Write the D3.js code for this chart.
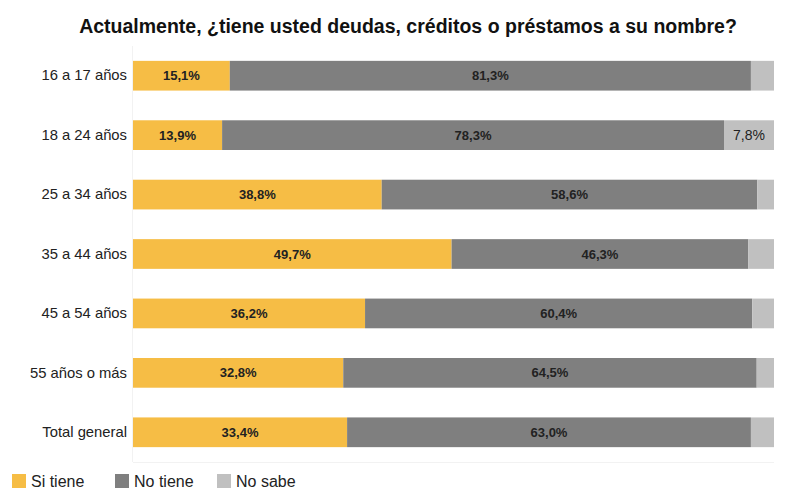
<!DOCTYPE html>
<html><head><meta charset="utf-8">
<script src="https://cdn.jsdelivr.net/npm/d3@7"></script>
<style>body{margin:0;background:#fff;}svg{display:block;font-family:"Liberation Sans",Arial,sans-serif;}</style>
</head><body>
<svg id="c" width="800" height="497"></svg>
<script>
const categories = ["16 a 17 años","18 a 24 años","25 a 34 años","35 a 44 años","45 a 54 años","55 años o más","Total general"];
const siTiene = [15.1,13.9,38.8,49.7,36.2,32.8,33.4];
const noTiene = [81.3,78.3,58.6,46.3,60.4,64.5,63.0];
const noSabe = [3.6,7.8,2.6,4.0,3.4,2.7,3.6];
const seriesNames = ["Si tiene","No tiene","No sabe"];
const colors = ["#F6BD45","#7F7F7F","#C0C0C0"];
const title = "Actualmente, ¿tiene usted deudas, créditos o préstamos a su nombre?";

const svg = d3.select("#c");
const mLeft = 133, mRight = 774, mTop = 46, mBottom = 462;
const data = categories.map((c,i)=>({cat:c,"Si tiene":siTiene[i],"No tiene":noTiene[i],"No sabe":noSabe[i]}));
const stack = d3.stack().keys(seriesNames)(data);
const x = d3.scaleLinear().domain([0,100]).range([mLeft,mRight]);
const y = d3.scaleBand().domain(categories).range([mTop,mBottom]).paddingInner(0.5).paddingOuter(0.25);

svg.append("text").attr("x",408).attr("y",33).attr("text-anchor","middle")
  .attr("font-size","19.5px").attr("font-weight","bold").attr("fill","#111").text(title);

svg.append("line").attr("x1",mLeft-0.5).attr("x2",mLeft-0.5).attr("y1",mTop).attr("y2",mBottom).attr("stroke","#f2f2f2");
svg.append("line").attr("x1",mLeft).attr("x2",mRight).attr("y1",mBottom+0.5).attr("y2",mBottom+0.5).attr("stroke","#f2f2f2");

stack.forEach((s,si)=>{
  const g = svg.append("g");
  g.selectAll("rect").data(s).join("rect")
    .attr("x",d=>x(d[0])).attr("width",d=>x(d[1])-x(d[0]))
    .attr("y",d=>y(d.data.cat)).attr("height",y.bandwidth())
    .attr("fill",colors[si]);
  g.selectAll("text").data(s.filter(d=>(d[1]-d[0])>5)).join("text")
    .attr("x",d=>(x(d[0])+x(d[1]))/2).attr("y",d=>y(d.data.cat)+y.bandwidth()/2)
    .attr("dy","0.35em").attr("text-anchor","middle").attr("font-size",si===2?"14px":"13px")
    .attr("font-weight",si===2?"normal":"bold").attr("fill","#222")
    .text(d=>d3.format(".1f")(d[1]-d[0]).replace(".",",")+"%");
});

const yAxis = d3.axisLeft(y).tickSize(0).tickPadding(6);
const ya = svg.append("g").attr("transform",`translate(${mLeft},0)`).call(yAxis);
ya.select(".domain").remove();
ya.selectAll("text").attr("font-size","14.8px").attr("fill","#222").attr("font-family","Liberation Sans, Arial, sans-serif");

const legX = [12,115,217];
const lg = svg.append("g");
seriesNames.forEach((n,i)=>{
  lg.append("rect").attr("x",legX[i]).attr("y",474).attr("width",14).attr("height",14).attr("fill",colors[i]);
  lg.append("text").attr("x",legX[i]+19).attr("y",487).attr("font-size","16px").attr("fill","#222").text(n);
});
</script>
</body></html>
